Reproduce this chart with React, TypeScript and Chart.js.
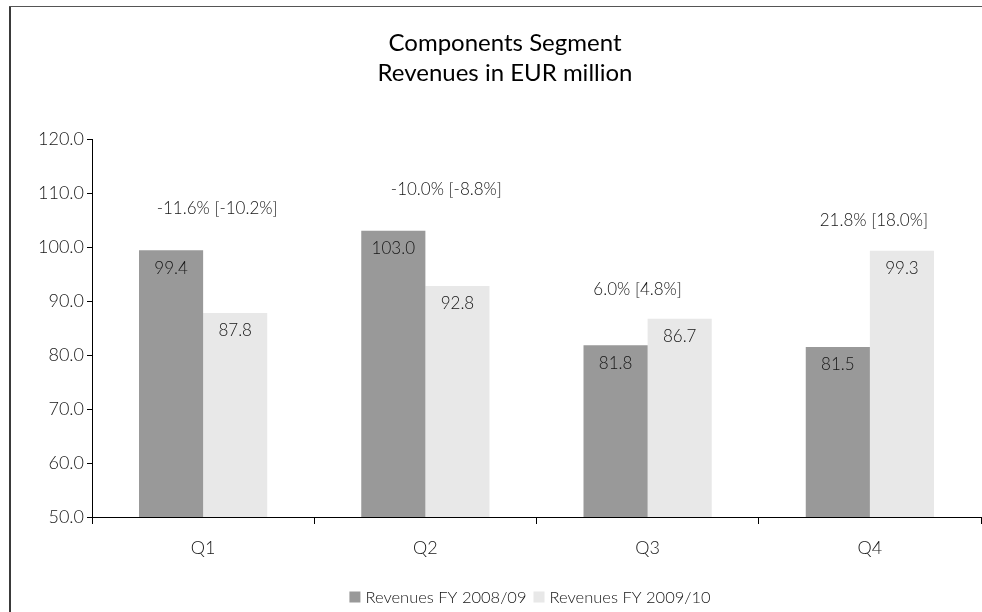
import React, { useEffect, useRef } from "react";
import { Chart, registerables } from "chart.js";

Chart.register(...registerables);

const categories = ["Q1", "Q2", "Q3", "Q4"];
const revenues0809 = [99.4, 103.0, 81.8, 81.5];
const revenues0910 = [87.8, 92.8, 86.7, 99.3];
const changeLabels = ["-11.6% [-10.2%]", "-10.0% [-8.8%]", "6.0% [4.8%]", "21.8% [18.0%]"];
const seriesNames = ["Revenues FY 2008/09", "Revenues FY 2009/10"];
const titleLines = ["Components Segment", "Revenues in EUR million"];
const yTicks = { min: 50, max: 120, step: 10 };

// styling offsets for the change annotations (pixels)
const annoDx = [14, 21, -10, 4];
const annoDy = [42, 41, 29, 30];

const FONT = "Lato, 'Open Sans', sans-serif";
const W = "300";
const TEXT = "#151515";
const DARK = "#999999";
const LIGHT = "#e8e8e8";

const overlayPlugin = {
  id: "overlay",
  afterDatasetsDraw(chart: any) {
    const ctx = chart.ctx;
    ctx.save();
    ctx.fillStyle = TEXT;
    ctx.textAlign = "center";
    ctx.textBaseline = "middle";
    ctx.font = `${W} 17px ${FONT}`;
    chart.data.datasets.forEach((ds: any, di: number) => {
      const meta = chart.getDatasetMeta(di);
      meta.data.forEach((bar: any, i: number) => {
        const v = ds.data[i];
        ctx.fillText(v.toFixed(1), bar.x, bar.y + 18);
      });
    });
    const yScale = chart.scales.y;
    const xScale = chart.scales.x;
    categories.forEach((_, i) => {
      const top = Math.max(revenues0809[i], revenues0910[i]);
      const y = yScale.getPixelForValue(top) - annoDy[i];
      const x = xScale.getPixelForValue(i) + annoDx[i];
      ctx.fillText(changeLabels[i], x, y);
    });
    ctx.restore();
  },
  afterDraw(chart: any) {
    const ctx = chart.ctx;
    ctx.save();
    ctx.fillStyle = "#000000";
    ctx.textAlign = "center";
    ctx.textBaseline = "middle";
    ctx.font = `400 24px ${FONT}`;
    ctx.fillText(titleLines[0], 505, 43);
    ctx.fillText(titleLines[1], 505, 73);

    // legend
    ctx.font = `${W} 16.5px ${FONT}`;
    ctx.textAlign = "left";
    const box = 11;
    const gap = 5;
    const itemGap = 7;
    const widths = chart.data.datasets.map((d: any) => box + gap + ctx.measureText(d.label).width);
    const total = widths.reduce((a: number, b: number) => a + b, 0) + itemGap;
    let x = 530 - total / 2;
    const y = 597;
    chart.data.datasets.forEach((d: any, i: number) => {
      ctx.fillStyle = d.backgroundColor;
      ctx.fillRect(x, y - box / 2, box, box);
      ctx.fillStyle = TEXT;
      ctx.fillText(d.label, x + box + gap, y + 1);
      x += widths[i] + itemGap;
    });
    ctx.restore();
  },
};

export default function App() {
  const ref = useRef<HTMLCanvasElement | null>(null);
  useEffect(() => {
    if (!ref.current) return;
    const chart = new Chart(ref.current, {
      type: "bar",
      data: {
        labels: categories,
        datasets: [
          { label: seriesNames[0], data: revenues0809, backgroundColor: DARK, categoryPercentage: 0.577, barPercentage: 1.0 },
          { label: seriesNames[1], data: revenues0910, backgroundColor: LIGHT, categoryPercentage: 0.577, barPercentage: 1.0 },
        ],
      },
      options: {
        responsive: false,
        animation: false,
        layout: { padding: { left: 0, top: 139, right: 1, bottom: 0 } },
        plugins: {
          legend: { display: false },
          title: { display: false },
          tooltip: { enabled: false },
        },
        scales: {
          x: {
            afterFit: (s: any) => { s.height = 95; },
            grid: { offset: true, drawOnChartArea: false, tickLength: 7, color: "#000000" },
            border: { display: true, color: "#000000", width: 1 },
            ticks: { color: TEXT, font: { family: FONT, size: 18, weight: W }, padding: 13 },
          },
          y: {
            min: yTicks.min,
            max: yTicks.max,
            afterFit: (s: any) => { s.width = 92; },
            grid: { drawOnChartArea: false, tickLength: 5, color: "#000000" },
            border: { display: true, color: "#000000", width: 1 },
            ticks: {
              stepSize: yTicks.step,
              color: TEXT,
              font: { family: FONT, size: 18, weight: W },
              padding: 3,
              callback: (v: any) => Number(v).toFixed(1),
            },
          },
        },
      },
      plugins: [overlayPlugin],
    });
    return () => chart.destroy();
  }, []);
  return (
    <div style={{ position: "fixed", left: 0, top: 0, width: 982, height: 612, background: "#ffffff", overflow: "hidden" }}>
      <canvas ref={ref} width={982} height={612} style={{ position: "absolute", left: 0, top: 0 }} />
      <div style={{ position: "absolute", left: 9, top: 6, width: 2, height: 700, background: "#3a3a3a" }} />
      <div style={{ position: "absolute", left: 9, top: 6, width: 1100, height: 1, background: "#555555" }} />
    </div>
  );
}
